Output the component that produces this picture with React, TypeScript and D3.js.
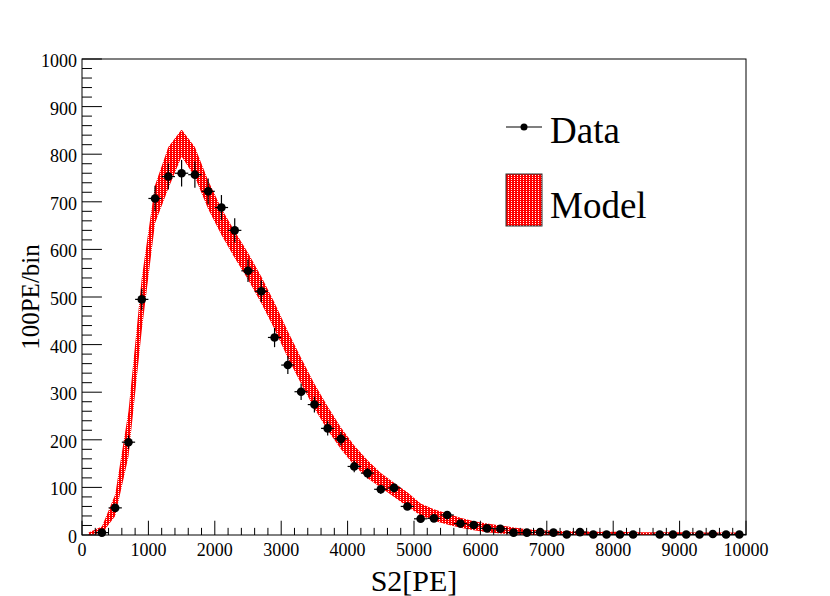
import * as d3 from "d3";

// bin centres of the S2 histogram (200 PE bins)
const binCenters = [
  100, 300, 500, 700, 900, 1100, 1300, 1500, 1700, 1900,
  2100, 2300, 2500, 2700, 2900, 3100, 3300, 3500, 3700, 3900,
  4100, 4300, 4500, 4700, 4900, 5100, 5300, 5500, 5700, 5900,
  6100, 6300, 6500, 6700, 6900, 7100, 7300, 7500, 7700, 7900,
  8100, 8300, 8500, 8700, 8900, 9100, 9300, 9500, 9700, 9900,
];

// data counts (null = empty bin, not drawn)
const dataCounts = [
  null, 5, 57, 195, 495, 707, 753, 760, 757, 722,
  688, 640, 555, 512, 415, 357, 301, 274, 224, 202,
  144, 130, 96, 99, 60, 34, 35, 42, 24, 21,
  14, 13, 5, 5, 6, 5, 1, 6, 1, 1,
  1, 1, null, 1, 1, 1, 1, 2, 1, 1,
];

const dataErrors = [
  0, 2.2, 7.5, 14, 22.2, 26.6, 27.4, 27.6, 27.5, 26.9,
  26.2, 25.3, 23.6, 22.6, 20.4, 18.9, 17.3, 16.6, 15, 14.2,
  12, 11.4, 9.8, 9.9, 7.7, 5.8, 5.9, 6.5, 4.9, 4.6,
  3.7, 3.6, 2.2, 2.2, 2.4, 2.2, 1, 2.4, 1, 1,
  1, 1, 0, 1, 1, 1, 1, 1.4, 1, 1,
];

// model band edges
const modelUpper = [
  5, 18, 85, 260, 540, 735, 815, 852, 815, 745,
  686, 638, 593, 543, 488, 428, 372, 318, 270, 226,
  188, 157, 130, 110, 90, 66, 54, 45, 36, 29,
  24, 20, 16, 12, 10, 9, 8, 8, 7, 7,
  7, 6, 6, 6, 6, 6, 5, 5, 5, 5,
];

const modelLower = [
  0, 3, 40, 165, 430, 655, 728, 795, 752, 685,
  630, 582, 537, 487, 432, 372, 318, 266, 220, 180,
  146, 119, 100, 80, 60, 41, 30, 22, 15, 10,
  6, 3, 1, 0, 0, 0, 0, 0, 0, 0,
  0, 0, 0, 0, 0, 0, 0, 0, 0, 0,
];

const xTicks = [0, 1000, 2000, 3000, 4000, 5000, 6000, 7000, 8000, 9000, 10000];
const yTicks = [0, 100, 200, 300, 400, 500, 600, 700, 800, 900, 1000];

const W = 830;
const H = 596;
const left = 82, right = 746, top = 59, bottom = 535;
const font = "'Liberation Serif', 'Times New Roman', serif";

export default function App() {
  const x = d3.scaleLinear().domain([0, 10000]).range([left, right]);
  const y = d3.scaleLinear().domain([0, 1000]).range([bottom, top]);

  const band = binCenters.map((c, i) => ({ c, lo: modelLower[i], hi: modelUpper[i] }));
  const area = d3.area<any>()
    .x(d => x(d.c))
    .y0(d => y(d.lo))
    .y1(d => y(d.hi));

  const points = binCenters
    .map((c, i) => ({ c, v: dataCounts[i], e: dataErrors[i] }))
    .filter(d => d.v !== null);

  const xMinor = d3.range(0, 10001, 200).filter(v => v % 1000 !== 0);
  const yMinor = d3.range(0, 1001, 20).filter(v => v % 100 !== 0);

  const xLen = 0.03 * (bottom - top);
  const yLen = 0.03 * (right - left);

  return (
    <div style={{ position: "absolute", left: 0, top: 0 }}>
      <svg width={W} height={H} viewBox={`0 0 ${W} ${H}`} style={{ display: "block", background: "#fff" }}>
        <defs>
          <pattern id="dots" width="3" height="2" patternUnits="userSpaceOnUse">
            <rect width="3" height="2" fill="#ff0000" />
            <rect x="1" y="1" width="1" height="1" fill="#ffffff" />
          </pattern>
          <clipPath id="frame">
            <rect x={left} y={top} width={right - left} height={bottom - top} />
          </clipPath>
        </defs>

        {/* model band */}
        <path d={area(band)} fill="url(#dots)" clipPath="url(#frame)" />

        {/* data points */}
        <g stroke="#000" strokeWidth={1.2}>
          {points.map(d => (
            <g key={d.c}>
              <line x1={x(d.c - 100)} x2={x(d.c + 100)} y1={y(d.v)} y2={y(d.v)} />
              <line x1={x(d.c)} x2={x(d.c)} y1={y(d.v - d.e)} y2={y(d.v + d.e)} />
            </g>
          ))}
        </g>
        <g fill="#000">
          {points.map(d => (
            <circle key={d.c} cx={x(d.c)} cy={y(d.v)} r={4.3} />
          ))}
        </g>

        {/* frame */}
        <rect x={left} y={top} width={right - left} height={bottom - top} fill="none" stroke="#000" strokeWidth={1} />

        {/* ticks */}
        <g stroke="#000" strokeWidth={1}>
          {xTicks.map(t => (
            <line key={t} x1={x(t)} x2={x(t)} y1={bottom} y2={bottom - xLen} />
          ))}
          {xMinor.map(t => (
            <line key={t} x1={x(t)} x2={x(t)} y1={bottom} y2={bottom - xLen / 2} />
          ))}
          {yTicks.map(t => (
            <line key={t} x1={left} x2={left + yLen} y1={y(t)} y2={y(t)} />
          ))}
          {yMinor.map(t => (
            <line key={t} x1={left} x2={left + yLen / 2} y1={y(t)} y2={y(t)} />
          ))}
        </g>

        <g fontFamily={font} fontSize={18} fill="#000">
          {xTicks.map(t => (
            <text key={t} x={x(t)} y={556} textAnchor="middle">{t}</text>
          ))}
          {yTicks.map(t => (
            <text key={t} x={77} y={y(t) + 8} textAnchor="end">{t}</text>
          ))}
        </g>

        {/* axis titles */}
        <text x={(left + right) / 2} y={591} textAnchor="middle" fontFamily={font} fontSize={30}>S2[PE]</text>
        <text transform={`translate(38.5, ${(top + bottom) / 2}) rotate(-90)`} textAnchor="middle"
          fontFamily={font} fontSize={25}>100PE/bin</text>

        {/* legend */}
        <line x1={506} x2={542} y1={127} y2={127} stroke="#000" strokeWidth={1.2} />
        <circle cx={524} cy={127} r={3.5} fill="#000" />
        <text x={550} y={143} fontFamily={font} fontSize={37}>Data</text>
        <rect x={506} y={174} width={36} height={52} fill="url(#dots)" stroke="#333" strokeWidth={1} />
        <text x={550} y={218} fontFamily={font} fontSize={37}>Model</text>
      </svg>
    </div>
  );
}
